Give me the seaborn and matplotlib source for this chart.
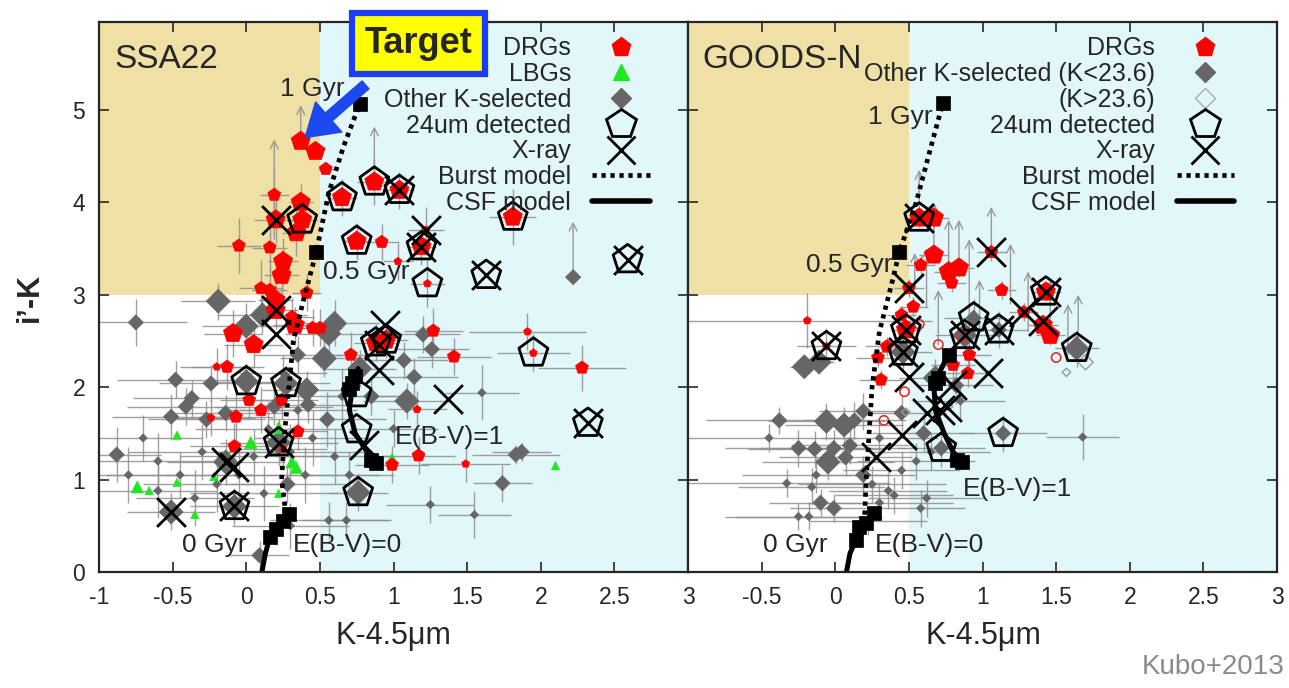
import matplotlib
matplotlib.use("Agg")
import matplotlib.pyplot as plt
from matplotlib import font_manager
from matplotlib.lines import Line2D
from matplotlib.patches import Rectangle
import seaborn as sns

# ---------------------------------------------------------------- data
# SSA22 field: distant red galaxies (K-4.5um, i'-K, brightness class b/m/f)
drg_l_x = [0.37, 0.47, 0.54, 0.19, 0.37, 0.38, 0.20, 0.34, -0.05, 0.16,
           0.25, 0.24, 0.10, 0.16, 0.20, 0.41, 0.65, 0.87, 0.75, 0.92,
           1.04, 1.22, 1.19, 1.03, 1.23, 1.81, 0.20, -0.09, 0.05, 0.33,
           0.45, 0.50, 0.71, 0.88, 0.95, -0.13, -0.20, -0.07, 0.02, 0.10,
           0.24, 0.35, -0.08, 0.99, 1.27, 1.41, 1.91, 1.95, 2.28, 1.17,
           1.49, 1.16, -0.24, 0.25, 0.31]
drg_l_y = [4.66, 4.55, 4.36, 4.08, 4.00, 3.81, 3.81, 3.67, 3.53, 3.51,
           3.36, 3.21, 3.07, 3.05, 2.94, 3.02, 4.05, 4.22, 3.58, 3.57,
           4.13, 3.70, 3.52, 3.36, 3.12, 3.84, 2.83, 2.58, 2.46, 2.67,
           2.64, 2.64, 2.35, 2.48, 2.51, 2.22, 2.22, 1.68, 1.86, 1.75,
           1.86, 1.52, 1.36, 1.16, 2.61, 2.33, 2.60, 2.37, 2.21, 1.26,
           1.17, 1.76, 1.67, 1.33, 2.76]
drg_l_mag = list("".join("bbmmbbbbmm bbmmbmbbbm bfbffbbbbb mmmbbmfmmm mmmmmmffmm ffffm".split()))
drg_l_xerr = [0.05, 0.05, 0.05, 0.10, 0.08, 0.10, 0.15, 0.10, 0.15, 0.12,
              0.10, 0.12, 0.15, 0.12, 0.12, 0.10, 0.10, 0.12, 0.10, 0.12,
              0.10, 0.12, 0.10, 0.10, 0.12, 0.16, 0.15, 0.20, 0.20, 0.15,
              0.15, 0.15, 0.20, 0.15, 0.15, 0.25, 0.25, 0.25, 0.20, 0.25,
              0.25, 0.20, 0.30, 0.25, 0.20, 0.25, 0.40, 0.25, 0.30, 0.25,
              0.30, 0.20, 0.30, 0.30, 0.15]
drg_l_yerr = [0.00, 0.00, 0.05, 0.30, 0.20, 0.20, 0.25, 0.25, 0.30, 0.25,
              0.25, 0.25, 0.30, 0.25, 0.20, 0.20, 0.20, 0.25, 0.20, 0.20,
              0.20, 0.25, 0.20, 0.20, 0.25, 0.30, 0.20, 0.25, 0.25, 0.20,
              0.20, 0.20, 0.25, 0.20, 0.20, 0.25, 0.20, 0.25, 0.20, 0.25,
              0.20, 0.20, 0.25, 0.20, 0.25, 0.20, 0.20, 0.20, 0.25, 0.20,
              0.20, 0.20, 0.20, 0.20, 0.20]

# SSA22: Lyman-break galaxies
lbg_l_x = [0.03, 0.22, 0.31, 0.34, -0.47, -0.74, -0.66, -0.47, -0.22, -0.35, 0.99, 2.10, 0.22]
lbg_l_y = [1.40, 1.56, 1.19, 1.13, 1.48, 0.92, 0.88, 0.97, 1.03, 0.62, 1.24, 1.15, 0.85]
lbg_l_mag = list("mmmmfmfffffff")

# SSA22: other K-selected galaxies
gray_l_x = [-0.19, 0.00, 0.11, 0.60, 0.56, 0.53, -0.75, 0.00, 0.27, -0.48,
            -0.24, -0.37, -0.41, -0.51, 0.41, 0.42, -0.27, -0.14, 0.19, -0.88,
            1.20, 1.26, 1.07, 1.14, 1.09, 1.60, 2.22, 1.83, 1.87, 1.74,
            0.76, -0.08, -0.51, 0.22, -0.14, 0.09, 0.56, 0.68, -0.70, -0.60,
            -0.45, -0.30, -0.20, -0.05, 0.05, 0.12, 0.30, 0.40, 0.45, 0.55,
            0.60, 0.28, -0.35, -0.80, 0.15, 0.35, 0.65, 0.70, 0.30, -0.60,
            0.35, 0.25, 0.85, 1.00, 1.55, 1.25, 0.77]
gray_l_y = [2.93, 2.66, 2.78, 2.69, 2.58, 2.31, 2.70, 2.06, 2.04, 2.08,
            2.04, 1.88, 1.79, 1.68, 1.97, 1.81, 1.65, 1.72, 1.79, 1.27,
            2.57, 2.41, 2.29, 2.11, 1.85, 1.94, 3.19, 1.27, 1.30, 0.96,
            0.86, 0.71, 0.65, 1.40, 1.19, 0.18, 0.56, 0.56, 1.45, 1.20,
            1.05, 1.30, 0.95, 1.05, 1.25, 0.85, 1.30, 1.05, 1.45, 1.65,
            1.25, 0.95, 0.80, 1.05, 1.55, 1.75, 1.90, 1.05, 0.50, 0.88,
            2.35, 2.15, 1.90, 1.55, 0.62, 0.73, 2.20]
gray_l_mag = list("".join("bbbbbbmbbm mmmmbmmmmm mmmmbfmmmm bbbbbmffff fffffffffm fmffffffff mfmfffb".split()))
gray_l_xerr = [0.25, 0.30, 0.30, 0.30, 0.30, 0.30, 0.35, 0.30, 0.30, 0.40,
               0.35, 0.40, 0.40, 0.40, 0.30, 0.30, 0.40, 0.40, 0.40, 0.30,
               0.25, 0.25, 0.30, 0.30, 0.30, 0.25, 0.00, 0.30, 0.20, 0.20,
               0.20, 0.30, 0.30, 0.40, 0.40, 0.20, 0.40, 0.30, 0.40, 0.50,
               0.50, 0.50, 0.50, 0.50, 0.50, 0.50, 0.50, 0.50, 0.40, 0.40,
               0.40, 0.40, 0.40, 0.30, 0.50, 0.40, 0.40, 0.30, 0.40, 0.40,
               0.30, 0.30, 0.30, 0.30, 0.25, 0.30, 0.25]
gray_l_yerr = [0.20, 0.25, 0.20, 0.25, 0.20, 0.20, 0.25, 0.20, 0.20, 0.20,
               0.20, 0.20, 0.20, 0.25, 0.20, 0.20, 0.20, 0.20, 0.20, 0.30,
               0.20, 0.20, 0.20, 0.20, 0.20, 0.30, 0.00, 0.10, 0.10, 0.20,
               0.20, 0.20, 0.20, 0.25, 0.25, 0.15, 0.20, 0.20, 0.25, 0.30,
               0.25, 0.30, 0.30, 0.30, 0.30, 0.30, 0.30, 0.30, 0.30, 0.30,
               0.30, 0.20, 0.30, 0.30, 0.30, 0.25, 0.30, 0.25, 0.25, 0.30,
               0.20, 0.20, 0.20, 0.20, 0.25, 0.20, 0.20]

# SSA22: 24um and X-ray counterparts
mips_l_x = [0.38, 0.65, 0.87, 0.75, 1.04, 1.19, 1.23, 1.63, 1.81, 2.59, 0.88,
            0.95, 0.00, 0.27, 0.22, 0.75, 0.76, -0.08, 1.95, 2.32, 0.75]
mips_l_y = [3.81, 4.05, 4.22, 3.58, 4.13, 3.52, 3.12, 3.21, 3.84, 3.38, 2.48,
            2.51, 2.06, 2.04, 1.40, 1.54, 0.86, 0.71, 2.37, 1.61, 1.93]
xray_l_x = [0.20, 1.04, 1.22, 1.19, 1.63, 2.59, 0.20, 0.20, 0.90, 0.94,
            0.90, 1.37, 0.80, 0.22, -0.14, -0.08, -0.51, -0.08, 2.32]
xray_l_y = [3.81, 4.13, 3.70, 3.52, 3.21, 3.38, 2.83, 2.57, 2.46, 2.67,
            2.19, 1.87, 1.37, 1.40, 1.19, 1.14, 0.65, 0.71, 1.61]

# SSA22: lower limits on i'-K
lim_l_x = [0.37, 0.19, 0.87, 2.22]
lim_l_from = [4.66, 3.60, 4.35, 3.19]
lim_l_to = [5.05, 4.68, 4.82, 3.79]

# SSA22: model tracks
burst_l_x = [0.27, 0.24, 0.26, 0.29, 0.32, 0.39, 0.475, 0.56, 0.66, 0.77]
burst_l_y = [0.62, 1.00, 1.50, 2.00, 2.50, 2.95, 3.46, 4.10, 4.60, 5.06]
csf0_l_x = [0.10, 0.13, 0.16]
csf0_l_y = [-0.05, 0.20, 0.38]
csf1_l_x = [0.88, 0.82, 0.74, 0.70, 0.72, 0.76]
csf1_l_y = [1.18, 1.30, 1.50, 1.75, 2.00, 2.20]
age_l_x = [0.16, 0.20, 0.25, 0.29, 0.475, 0.77, 0.88, 0.85, 0.72, 0.70, 0.74]
age_l_y = [0.38, 0.47, 0.55, 0.63, 3.46, 5.06, 1.18, 1.21, 2.05, 1.98, 2.12]

# GOODS-N field
drg_r_x = [0.57, 0.67, 0.67, 0.58, 0.77, 0.84, 0.79, 0.50, 0.53, 0.45,
           0.48, 0.35, 0.29, 0.31, 0.91, 0.90, 1.06, 1.43, 1.28, 1.41,
           1.46, 1.13, 0.80, -0.19, -0.06]
drg_r_y = [3.83, 3.83, 3.43, 3.32, 3.25, 3.29, 3.13, 3.07, 2.87, 2.78,
           2.62, 2.44, 2.32, 2.08, 2.35, 2.15, 3.46, 3.03, 2.81, 2.67,
           2.56, 3.05, 2.24, 2.72, 2.44]
drg_r_mag = list("".join("bbbmbbmmmm bmmmmmmbmb bmmff".split()))
drg_r_xerr = [0.10, 0.10, 0.10, 0.10, 0.10, 0.10, 0.10, 0.10, 0.10, 0.10,
              0.10, 0.15, 0.15, 0.15, 0.15, 0.15, 0.10, 0.10, 0.10, 0.10,
              0.10, 0.10, 0.15, 0.85, 0.20]
drg_r_yerr = [0.10, 0.10, 0.10, 0.10, 0.10, 0.10, 0.10, 0.10, 0.10, 0.10,
              0.10, 0.10, 0.10, 0.10, 0.15, 0.15, 0.10, 0.10, 0.10, 0.10,
              0.10, 0.10, 0.15, 0.30, 0.20]
faint_drg_r_x = [0.47, 0.33, 0.70, 0.86, 1.50, 0.57]
faint_drg_r_y = [1.95, 1.64, 2.46, 2.54, 2.32, 2.68]

gray_r_x = [-0.21, -0.11, 0.46, 0.94, 1.64, 0.72, 1.14, 0.88, 1.11, -0.38,
            -0.06, 0.06, 0.13, 0.19, -0.25, -0.14, -0.01, 0.07, -0.05, 0.10,
            0.19, 0.60, 0.45, -0.10, -0.01, 0.68, 0.82, -0.33, -0.16, -0.13,
            -0.18, -0.25, 0.36, 0.40, 0.62, 0.58, 0.30, 0.45, 0.55, 0.25,
            1.68, 0.65, 0.30, 0.85, 0.22, -0.45]
gray_r_y = [2.22, 2.27, 2.38, 2.75, 2.42, 1.34, 1.50, 2.56, 2.62, 1.64,
            1.63, 1.59, 1.64, 1.74, 1.34, 1.33, 1.34, 1.24, 1.19, 1.37,
            1.05, 1.50, 1.72, 0.75, 0.69, 2.10, 2.02, 0.96, 0.92, 1.05,
            0.60, 0.60, 0.88, 0.83, 0.80, 0.69, 0.75, 1.10, 1.20, 0.95,
            1.46, 1.30, 1.45, 1.85, 0.55, 1.45]
gray_r_mag = list("".join("bbbmbmmbmm bbmmmmmmbm mmmmmbmfff ffffffffff ffffff".split()))
gray_r_xerr = [0.10, 0.10, 0.20, 0.20, 0.15, 0.30, 0.30, 0.20, 0.20, 0.50,
               0.40, 0.40, 0.35, 0.30, 0.50, 0.45, 0.50, 0.45, 0.45, 0.40,
               0.35, 0.35, 0.30, 0.35, 0.30, 0.25, 0.25, 0.70, 0.50, 0.50,
               0.50, 0.50, 0.40, 0.40, 0.40, 0.30, 0.50, 0.40, 0.40, 0.50,
               0.25, 0.40, 0.40, 0.30, 0.40, 0.60]
gray_r_yerr = [0.10, 0.10, 0.20, 0.20, 0.20, 0.20, 0.20, 0.20, 0.20, 0.15,
               0.20, 0.20, 0.20, 0.20, 0.20, 0.20, 0.20, 0.20, 0.20, 0.20,
               0.20, 0.20, 0.20, 0.15, 0.15, 0.20, 0.20, 0.15, 0.20, 0.20,
               0.15, 0.15, 0.20, 0.20, 0.20, 0.20, 0.20, 0.20, 0.20, 0.20,
               0.25, 0.20, 0.20, 0.20, 0.15, 0.15]
faint_gray_r_x = [1.70, 1.57, 0.77, 0.48]
faint_gray_r_y = [2.27, 2.16, 1.79, 1.73]
faint_gray_r_mag = list("mfff")

mips_r_x = [0.57, 0.48, 0.46, 0.94, -0.06, 1.43, 0.88, 1.11, 1.64, 0.72, 1.14]
mips_r_y = [3.83, 2.62, 2.38, 2.75, 2.44, 3.03, 2.56, 2.62, 2.42, 1.34, 1.50]
xray_r_x = [0.57, 0.50, 0.48, 0.46, 0.50, -0.06, 1.06, 1.43, 1.28, 1.41,
            0.88, 1.11, 0.79, 1.04, 0.71, 0.76, 0.62, 0.45, 0.28]
xray_r_y = [3.83, 3.07, 2.62, 2.38, 2.11, 2.44, 3.46, 3.03, 2.81, 2.72,
            2.56, 2.62, 2.02, 2.15, 1.75, 1.78, 1.72, 1.48, 1.24]

lim_r_x = [0.57, 0.67, 0.54, 0.70, 0.77, 0.84, 0.98, 1.06, 1.19, 1.31, 1.46, 1.58, 1.65, 0.62, 0.91]
lim_r_from = [3.83, 3.43, 3.07, 2.46, 3.25, 3.29, 2.60, 3.46, 2.90, 2.60, 2.56, 2.35, 2.42, 2.87, 2.35]
lim_r_to = [4.35, 4.00, 3.45, 3.05, 3.81, 3.81, 3.16, 3.95, 3.55, 3.25, 3.15, 2.90, 3.00, 3.50, 3.60]

burst_r_x = [0.20, 0.21, 0.23, 0.25, 0.30, 0.39, 0.435, 0.55, 0.65, 0.73]
burst_r_y = [0.62, 1.00, 1.50, 2.00, 2.60, 3.16, 3.46, 4.00, 4.60, 5.07]
csf0_r_x = [0.07, 0.10, 0.14]
csf0_r_y = [-0.05, 0.20, 0.35]
csf1_r_x = [0.86, 0.80, 0.74, 0.68, 0.67, 0.72, 0.77]
csf1_r_y = [1.19, 1.30, 1.50, 1.75, 2.00, 2.20, 2.35]
age_r_x = [0.14, 0.16, 0.21, 0.26, 0.435, 0.73, 0.86, 0.83, 0.77, 0.68, 0.70]
age_r_y = [0.35, 0.49, 0.53, 0.64, 3.46, 5.07, 1.19, 1.21, 2.35, 2.05, 2.10]

# axis ranges and colour-cut regions
X_RANGE = (-1.0, 3.0)
Y_RANGE = (0.0, 5.95)
X_CUT = 0.5
Y_CUT = 3.0
X_TICKS = [-1, -0.5, 0, 0.5, 1, 1.5, 2, 2.5, 3]
X_TICK_TEXT = ["-1", "-0.5", "0", "0.5", "1", "1.5", "2", "2.5", "3"]
Y_TICKS = [0, 1, 2, 3, 4, 5]

# ---------------------------------------------------------------- style
RED = "#ff0000"
GREEN = "#22e622"
GRAY = "#666666"
ERR = "#8f8f8f"
TAN = "#efe0a6"
CYAN = "#e2f7f9"
DOT = (0, (0.9, 1.0))

DRG_SIZES = {"b": 210, "m": 95, "f": 35}
GRAY_SIZES = {"b": 150, "m": 60, "f": 18}
LBG_SIZES = {"m": 75, "f": 35}

sns.set_style("ticks")
names = {f.name for f in font_manager.fontManager.ttflist}
BASE_FONT = "Liberation Sans" if "Liberation Sans" in names else "DejaVu Sans"
TICK_FONT = "Liberation Sans Narrow" if "Liberation Sans Narrow" in names else BASE_FONT
plt.rcParams["font.family"] = [BASE_FONT, "DejaVu Sans"]

fig = plt.figure(figsize=(12.89, 6.88), dpi=100)
ax_l = fig.add_axes([99 / 1289, 116 / 688, 589 / 1289, 550 / 688])
ax_r = fig.add_axes([688 / 1289, 116 / 688, 589 / 1289, 550 / 688])


def draw_field(ax, drg, gray, mips, xray, lims, models, lbg=None, faint_drg=None, faint_gray=None):
    ax.add_patch(Rectangle((X_RANGE[0], Y_CUT), X_CUT - X_RANGE[0], Y_RANGE[1] - Y_CUT,
                           fc=TAN, ec="none", zorder=0))
    ax.add_patch(Rectangle((X_CUT, Y_RANGE[0]), X_RANGE[1] - X_CUT, Y_RANGE[1] - Y_RANGE[0],
                           fc=CYAN, ec="none", zorder=0))

    # error crosses
    ax.errorbar(gray[0], gray[1], xerr=gray[3], yerr=gray[4], fmt="none",
                ecolor=ERR, elinewidth=1.0, alpha=0.85, zorder=1)
    ax.errorbar(drg[0], drg[1], xerr=drg[3], yerr=drg[4], fmt="none",
                ecolor=ERR, elinewidth=1.0, alpha=0.85, zorder=1)
    # lower limits
    for x, y0, y1 in zip(*lims):
        ax.annotate("", xy=(x, y1), xytext=(x, y0),
                    arrowprops=dict(arrowstyle="->", color="#999999", lw=1.0,
                                    mutation_scale=14, shrinkA=0, shrinkB=0),
                    zorder=1.5)

    sns.scatterplot(x=gray[0], y=gray[1], size=gray[2], sizes=GRAY_SIZES, marker="D",
                    color=GRAY, edgecolor=GRAY, linewidth=0.5, legend=False, ax=ax, zorder=2)
    if faint_gray is not None:
        sns.scatterplot(x=faint_gray[0], y=faint_gray[1], size=faint_gray[2], sizes=GRAY_SIZES,
                        marker="D", facecolor="none", edgecolor="#9a9a9a", linewidth=1.0,
                        legend=False, ax=ax, zorder=2)
    if lbg is not None:
        sns.scatterplot(x=lbg[0], y=lbg[1], size=lbg[2], sizes=LBG_SIZES, marker="^",
                        color=GREEN, edgecolor=GREEN, linewidth=0.5, legend=False, ax=ax, zorder=3)
    if faint_drg is not None:
        sns.scatterplot(x=faint_drg[0], y=faint_drg[1], s=45, marker="o", facecolor="none",
                        edgecolor="#e03030", linewidth=1.2, legend=False, ax=ax, zorder=3)
    sns.scatterplot(x=drg[0], y=drg[1], size=drg[2], sizes=DRG_SIZES, marker="p",
                    color=RED, edgecolor=RED, linewidth=0.5, legend=False, ax=ax, zorder=3)

    # model tracks
    (bx, by), (c0x, c0y), (c1x, c1y), (ax_, ay_) = models
    sns.lineplot(x=bx, y=by, sort=False, estimator=None, color="black", lw=3.4,
                 ls=DOT, ax=ax, zorder=4)
    sns.lineplot(x=c0x, y=c0y, sort=False, estimator=None, color="black", lw=3.6, ax=ax, zorder=4)
    sns.lineplot(x=c1x, y=c1y, sort=False, estimator=None, color="black", lw=3.6, ax=ax, zorder=4)
    sns.scatterplot(x=ax_, y=ay_, marker="s", s=105, color="black", edgecolor="black",
                    linewidth=0.5, legend=False, ax=ax, zorder=4)

    # 24um and X-ray counterparts
    sns.scatterplot(x=mips[0], y=mips[1], marker="p", s=480, facecolor="none",
                    edgecolor="black", linewidth=2.0, legend=False, ax=ax, zorder=5)
    sns.scatterplot(x=xray[0], y=xray[1], marker="x", s=430, color="black",
                    linewidth=2.0, legend=False, ax=ax, zorder=6)

    ax.set_xlim(*X_RANGE)
    ax.set_ylim(*Y_RANGE)
    ax.set_xticks(X_TICKS)
    ax.set_yticks(Y_TICKS)
    ax.set_xlabel("")
    ax.set_ylabel("")
    ax.tick_params(direction="in", length=7, width=1.2, top=True, right=True,
                   labelsize=16.5, pad=10)
    for sp in ax.spines.values():
        sp.set_linewidth(1.6)
        sp.set_zorder(10)


draw_field(ax_l,
           (drg_l_x, drg_l_y, drg_l_mag, drg_l_xerr, drg_l_yerr),
           (gray_l_x, gray_l_y, gray_l_mag, gray_l_xerr, gray_l_yerr),
           (mips_l_x, mips_l_y), (xray_l_x, xray_l_y),
           (lim_l_x, lim_l_from, lim_l_to),
           ((burst_l_x, burst_l_y), (csf0_l_x, csf0_l_y), (csf1_l_x, csf1_l_y), (age_l_x, age_l_y)),
           lbg=(lbg_l_x, lbg_l_y, lbg_l_mag))

draw_field(ax_r,
           (drg_r_x, drg_r_y, drg_r_mag, drg_r_xerr, drg_r_yerr),
           (gray_r_x, gray_r_y, gray_r_mag, gray_r_xerr, gray_r_yerr),
           (mips_r_x, mips_r_y), (xray_r_x, xray_r_y),
           (lim_r_x, lim_r_from, lim_r_to),
           ((burst_r_x, burst_r_y), (csf0_r_x, csf0_r_y), (csf1_r_x, csf1_r_y), (age_r_x, age_r_y)),
           faint_drg=(faint_drg_r_x, faint_drg_r_y),
           faint_gray=(faint_gray_r_x, faint_gray_r_y, faint_gray_r_mag))

ax_l.set_xticklabels(X_TICK_TEXT, fontfamily=TICK_FONT)
ax_r.set_xticklabels([""] + X_TICK_TEXT[1:], fontfamily=TICK_FONT)
ax_l.set_yticklabels([str(t) for t in Y_TICKS], fontfamily=TICK_FONT)
ax_r.set_yticklabels([])

# field names
ax_l.text(0.027, 0.931, "SSA22", transform=ax_l.transAxes, fontsize=24, va="center", ha="left", zorder=8)
ax_r.text(0.024, 0.931, "GOODS-N", transform=ax_r.transAxes, fontsize=24, va="center", ha="left", zorder=8)

# model annotations
LBL = dict(fontsize=19, va="center", zorder=8)
ax_l.text(0.67, 5.22, "1 Gyr", ha="right", **LBL)
ax_l.text(0.52, 3.25, "0.5 Gyr", ha="left", **LBL)
ax_l.text(0.00, 0.29, "0 Gyr", ha="right", **LBL)
ax_l.text(0.32, 0.29, "E(B-V)=0", ha="left", **LBL)
ax_l.text(1.01, 1.46, "E(B-V)=1", ha="left", **LBL)
ax_r.text(0.66, 4.92, "1 Gyr", ha="right", **LBL)
ax_r.text(0.39, 3.32, "0.5 Gyr", ha="right", **LBL)
ax_r.text(-0.05, 0.29, "0 Gyr", ha="right", **LBL)
ax_r.text(0.27, 0.29, "E(B-V)=0", ha="left", **LBL)
ax_r.text(0.87, 0.90, "E(B-V)=1", ha="left", **LBL)

# legends
dotted = Line2D([], [], color="black", lw=3.4, ls=DOT, label="Burst model")
solid = Line2D([], [], color="black", lw=4.0, label="CSF model")
drg_h = Line2D([], [], ls="none", marker="p", ms=14, mfc=RED, mec=RED, label="DRGs")
mips_h = Line2D([], [], ls="none", marker="p", ms=22, mfc="none", mec="black", mew=2, label="24um detected")
xray_h = Line2D([], [], ls="none", marker="x", ms=20, mec="black", mew=2, label="X-ray")
LEG = dict(loc="upper right", frameon=False, markerfirst=False, fontsize=18,
           handlelength=2.3, handletextpad=0.85, labelspacing=0.07,
           borderaxespad=0, borderpad=0)
leg_l = ax_l.legend(handles=[
    drg_h,
    Line2D([], [], ls="none", marker="^", ms=11, mfc=GREEN, mec=GREEN, label="LBGs"),
    Line2D([], [], ls="none", marker="D", ms=10, mfc=GRAY, mec=GRAY, label="Other K-selected"),
    mips_h, xray_h, dotted, solid], bbox_to_anchor=(0.935, 0.974), **LEG)
leg_l.set_zorder(9)
leg_r = ax_r.legend(handles=[
    drg_h,
    Line2D([], [], ls="none", marker="D", ms=10, mfc=GRAY, mec=GRAY, label="Other K-selected (K<23.6)"),
    Line2D([], [], ls="none", marker="D", ms=10, mfc="none", mec="#aaaaaa", mew=1, label="(K>23.6)"),
    mips_h, xray_h, dotted, solid], bbox_to_anchor=(0.927, 0.974), **LEG)
leg_r.set_zorder(9)

# highlighted object
ax_l.annotate("", xy=(0.40, 4.70), xytext=(0.81, 5.27),
              arrowprops=dict(arrowstyle="simple,head_length=0.9,head_width=1.15,tail_width=0.3",
                              color="#1c48f0", mutation_scale=25, shrinkA=0, shrinkB=0),
              annotation_clip=False, zorder=11)
ax_l.text(1.17, 5.72, "Target", fontsize=26, fontweight="bold", ha="center", va="center",
          bbox=dict(boxstyle="square,pad=0.36", fc="#ffff00", ec="#1c3cf5", lw=4.5),
          clip_on=False, zorder=12)

# axis titles and credit
fig.text(393 / 1289, 1 - 636 / 688, "K-4.5\u03bcm", fontsize=22, ha="center", va="center")
fig.text(983 / 1289, 1 - 636 / 688, "K-4.5\u03bcm", fontsize=22, ha="center", va="center")
fig.text(30 / 1289, 1 - 297 / 688, "i\u2019-K", fontsize=22, fontweight="bold", rotation=90,
         ha="center", va="center")
fig.text(1285 / 1289, 1 - 667 / 688, "Kubo+2013", fontsize=20, color="#8a8a8a",
         ha="right", va="center", fontfamily=TICK_FONT)

fig.savefig("out.png", dpi=100)
